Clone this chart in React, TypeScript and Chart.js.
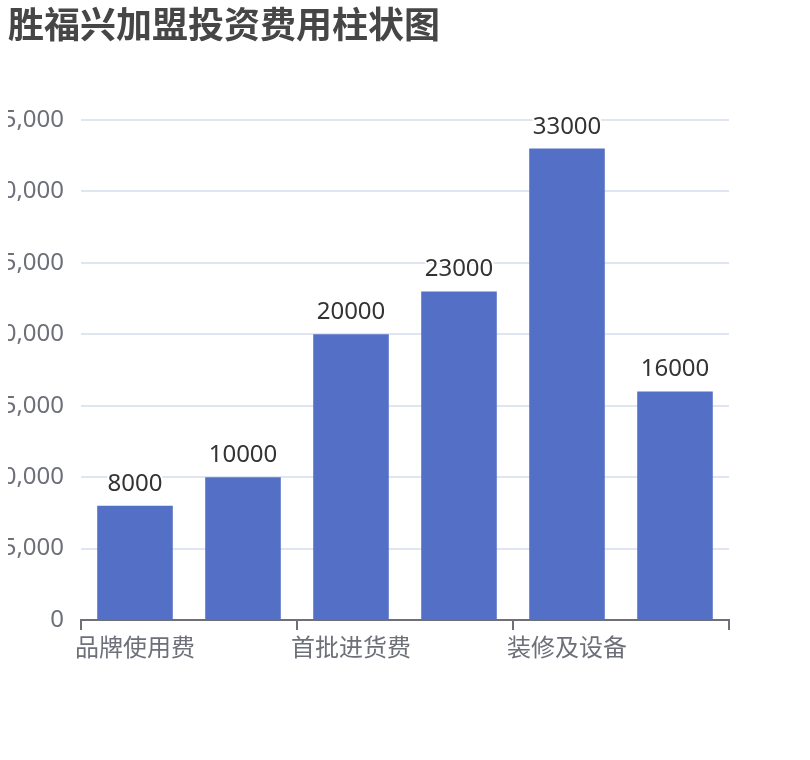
import React, { useEffect, useRef } from "react";
import Chart from "chart.js/auto";

const categories = ["品牌使用费", "加盟保证金", "首批进货费", "店面租金", "装修及设备", "流动资金"];
const costs = [8000, 10000, 20000, 23000, 33000, 16000];
const yTicks = [0, 5000, 10000, 15000, 20000, 25000, 30000, 35000];

const FONT = "'Noto Sans CJK SC', 'Noto Sans', sans-serif";
const NUM_FONT = "'Noto Sans', 'Noto Sans CJK SC', sans-serif";
const AXIS_GREY = "#6e7079";

// draw the value above each bar, with a white halo like the original
const valueLabels = {
  id: "valueLabels",
  afterDatasetsDraw(chart: any) {
    const { ctx } = chart;
    const meta = chart.getDatasetMeta(0);
    ctx.save();
    ctx.font = `24px ${NUM_FONT}`;
    ctx.textAlign = "center";
    ctx.textBaseline = "alphabetic";
    ctx.lineJoin = "round";
    meta.data.forEach((bar: any, i: number) => {
      const txt = String(costs[i]);
      const y = bar.y - 15;
      ctx.lineWidth = 4;
      ctx.strokeStyle = "#ffffff";
      ctx.strokeText(txt, bar.x, y);
      ctx.fillStyle = "#333333";
      ctx.fillText(txt, bar.x, y);
    });
    ctx.restore();
  },
};

const App = () => {
  const chartRef = useRef<HTMLCanvasElement>(null);
  const chartInstance = useRef<Chart>();

  useEffect(() => {
    if (chartInstance.current) {
      chartInstance.current.destroy();
    }
    const myChartRef = chartRef.current?.getContext("2d");
    if (myChartRef) {
      chartInstance.current = new Chart(myChartRef, {
        type: "bar",
        data: {
          labels: categories,
          datasets: [
            {
              data: costs,
              backgroundColor: "#5470c6",
              barPercentage: 0.7,
              categoryPercentage: 1,
            },
          ],
        },
        options: {
          responsive: false,
          animation: false,
          layout: { padding: { left: 8, right: 81, top: 0, bottom: 80 } },
          plugins: {
            legend: { display: false },
            tooltip: { enabled: false },
            title: {
              display: true,
              text: "胜福兴加盟投资费用柱状图",
              align: "start",
              color: "#464646",
              font: { family: FONT, size: 36, weight: "bold" },
              padding: { top: 3, bottom: 73.8 },
            },
          },
          scales: {
            x: {
              offset: true,
              grid: {
                offset: true,
                drawOnChartArea: false,
                drawTicks: true,
                tickLength: 10,
                lineWidth: 2,
                tickColor: (c: any) =>
                  c.index === undefined || c.index % 2 === 0 ? AXIS_GREY : "rgba(0,0,0,0)",
                color: "rgba(0,0,0,0)",
              },
              border: { display: true, color: AXIS_GREY, width: 2 },
              ticks: {
                autoSkip: false,
                maxRotation: 0,
                padding: 2,
                color: AXIS_GREY,
                font: { family: FONT, size: 24 },
                callback: (_v: any, i: number) => (i % 2 === 0 ? categories[i] : ""),
              },
              afterFit: (scale: any) => {
                scale.height = 60;
              },
            },
            y: {
              min: yTicks[0],
              max: yTicks[yTicks.length - 1],
              afterBuildTicks: (scale: any) => {
                scale.ticks = yTicks.map((v) => ({ value: v }));
              },
              grid: { color: "#e0e6f1", lineWidth: 2, drawTicks: false },
              border: { display: false },
              ticks: {
                padding: 17,
                color: AXIS_GREY,
                font: { family: NUM_FONT, size: 24 },
                callback: (v: any) => Number(v).toLocaleString("en-US"),
              },
              afterFit: (scale: any) => {
                scale.width = 73;
              },
            },
          },
        },
        plugins: [valueLabels],
      });
    }
    return () => {
      if (chartInstance.current) {
        chartInstance.current.destroy();
      }
    };
  }, []);

  return (
    <div style={{ position: "absolute", left: 0, top: 0, width: 810, height: 760, background: "#fff" }}>
      <canvas ref={chartRef} width={810} height={760} />
    </div>
  );
};

export default App;
